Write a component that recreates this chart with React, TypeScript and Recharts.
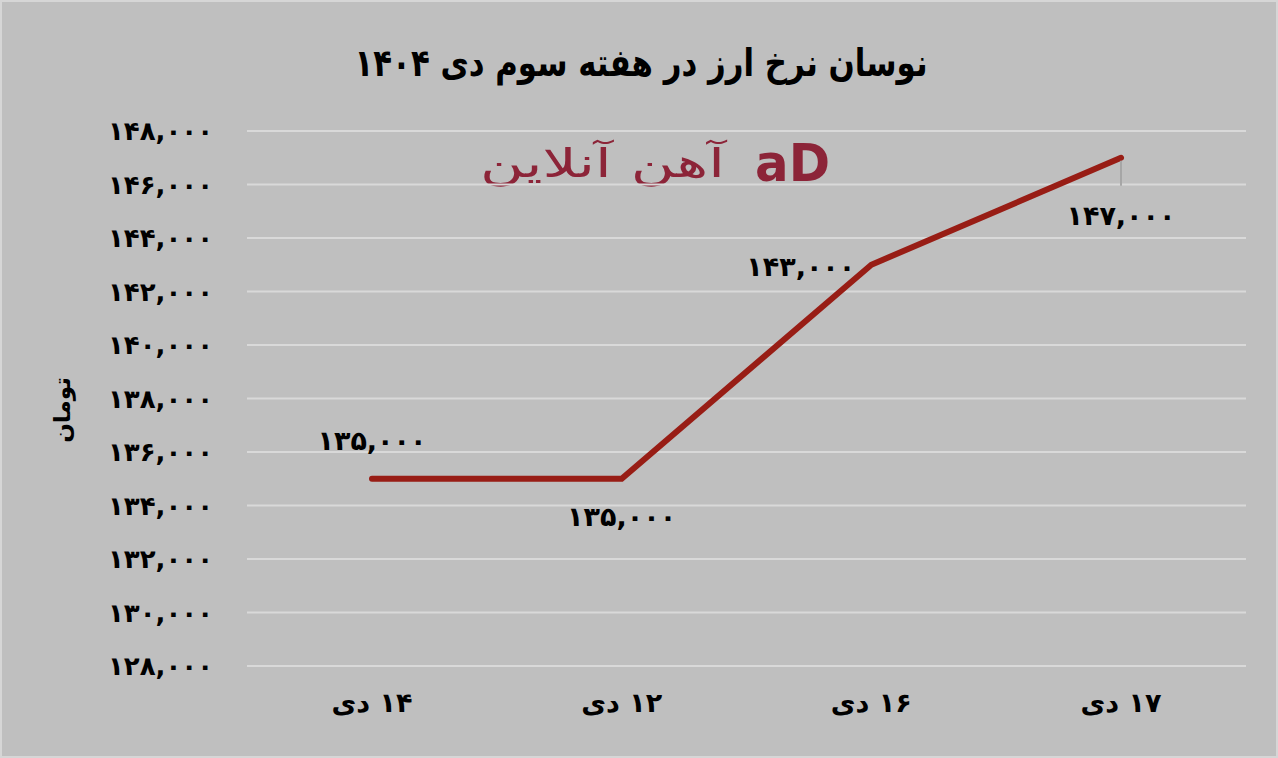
import React from "react";
import { LineChart, Line, XAxis, YAxis, CartesianGrid, LabelList } from "recharts";

const days = ["۱۴ دی", "۱۲ دی", "۱۶ دی", "۱۷ دی"];
const rates = [135000, 135000, 143000, 147000];
const yTicks = [128000, 130000, 132000, 134000, 136000, 138000, 140000, 142000, 144000, 146000, 148000];

const chartData = days.map((day, i) => ({ day, rate: rates[i] }));

const FONT = "'DejaVu Sans', sans-serif";
const faDigits = "۰۱۲۳۴۵۶۷۸۹";
const toFa = (n: number) =>
  n.toLocaleString("en-US").replace(/[0-9]/g, (d) => faDigits[Number(d)]);

const rtl = { direction: "rtl" as const, unicodeBidi: "embed" as const };

const XTick = (props: any) => {
  const { x, y, payload } = props;
  return (
    <text x={x} y={y} dy={10} textAnchor="middle" fontFamily={FONT} fontWeight="bold" fontSize={27}
      fill="#000" style={rtl}>
      {payload.value}
    </text>
  );
};

// label placement per point: dx, dy, anchor
const labelPlace = [
  { dx: 0, dy: -38, anchor: "middle" },
  { dx: 0, dy: 38, anchor: "middle" },
  { dx: -16, dy: 2, anchor: "end" },
  { dx: 0, dy: 58, anchor: "middle" },
];

const PointLabel = (props: any) => {
  const { x, y, value, index } = props;
  const p = labelPlace[index];
  return (
    <g>
      {index === 3 && <line x1={x} y1={y + 3} x2={x} y2={y + 28} stroke="#a6a6a6" strokeWidth={2} />}
      <text x={x + p.dx} y={y + p.dy} textAnchor={p.anchor} dominantBaseline="central"
        fontFamily={FONT} fontWeight="bold" fontSize={27} fill="#000">
        {toFa(value)}
      </text>
    </g>
  );
};

const App: React.FC = () => {
  return (
    <div style={{ position: "relative", width: 1278, height: 758, background: "#bfbfbf" }}>
      <style>{"body{margin:0;overflow:hidden}"}</style>
      <svg style={{ position: "absolute", left: 0, top: 0 }} width={1278} height={758}>
        <text x={641} y={76} textAnchor="middle" textLength={573} lengthAdjust="spacingAndGlyphs"
          fontFamily={FONT} fontWeight="bold" fontSize={38} fill="#000" style={rtl}>
          نوسان نرخ ارز در هفته سوم دی ۱۴۰۴
        </text>
        <text x={480} y={177} textLength={245} lengthAdjust="spacingAndGlyphs" fontFamily={FONT}
          fontSize={40} fill="#8c2438" style={rtl} textAnchor="end">
          آهن آنلاین
        </text>
        <text x={755} y={181} textLength={75} lengthAdjust="spacingAndGlyphs" fontFamily={FONT}
          fontWeight="bold" fontSize={52} fill="#8c2438">
          aD
        </text>
        <text x={70} y={410} transform="rotate(-90 70 410)" textAnchor="middle" fontFamily={FONT}
          fontWeight="bold" fontSize={23} fill="#000" style={rtl}>
          تومان
        </text>
      </svg>
      <LineChart width={1278} height={758} data={chartData} style={{ position: "absolute", left: 0, top: 0 }}
        margin={{ top: 131, right: 32, bottom: 0, left: 0 }}>
        <CartesianGrid vertical={false} stroke="#d9d9d9" strokeWidth={2} />
        <XAxis dataKey="day" axisLine={false} tickLine={false} tick={<XTick />} tickMargin={30} height={92}
          padding={{ left: 125, right: 125 }} />
        <YAxis domain={[128000, 148000]} ticks={yTicks} width={247} axisLine={false} tickLine={false}
          tickSize={0} tickMargin={34} tickFormatter={toFa}
          tick={{ fontFamily: FONT, fontWeight: "bold", fontSize: 26, fill: "#000" }} />
        <Line type="linear" dataKey="rate" stroke="#981d15" strokeWidth={6} dot={false}
          strokeLinecap="round" isAnimationActive={false}>
          <LabelList dataKey="rate" content={<PointLabel />} />
        </Line>
      </LineChart>
      <div style={{ position: "absolute", inset: 0, border: "2px solid #d6d6d6", pointerEvents: "none" }} />
    </div>
  );
};

export default App;
